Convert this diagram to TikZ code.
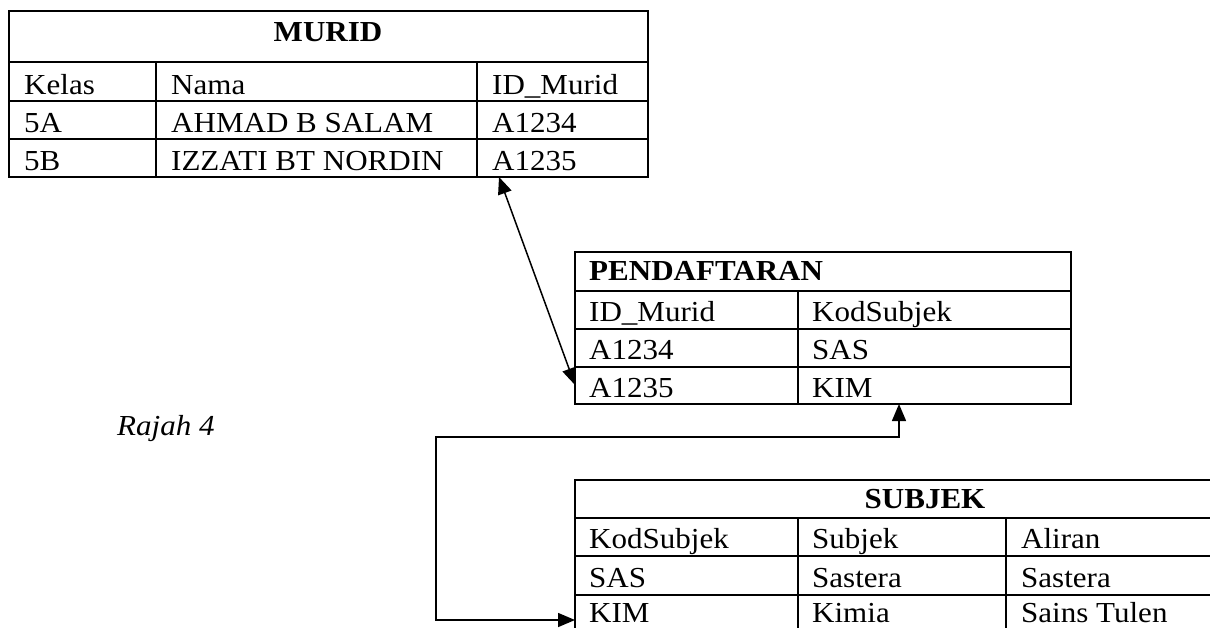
\documentclass[tikz,border=0pt]{standalone}
\usepackage{fontspec}
\setmainfont{Liberation Serif}[FakeStretch=1.07]
\usetikzlibrary{arrows.meta}

\begin{document}
\begin{tikzpicture}[x=1pt,y=-1pt,
	garis/.style={line width=1.8pt},
	sel/.style={anchor=base west, inner sep=0pt, font=\fontsize{29}{34}\selectfont},
	tajuk/.style={sel, font=\fontsize{29}{34}\selectfont\bfseries},
	panah/.style={line width=1.5pt, {Triangle[length=17pt,width=14pt]}-{Triangle[length=17pt,width=14pt]}}]
	\useasboundingbox (0,0) rectangle (1210,627);
	\clip (0,0) rectangle (1210,627);

	% MURID
	\draw [garis] (9,11) rectangle (648,177);
	\draw [garis] (9,62) -- (648,62);
	\draw [garis] (9,101) -- (648,101);
	\draw [garis] (9,139) -- (648,139);
	\draw [garis] (156,62) -- (156,177);
	\draw [garis] (477,62) -- (477,177);
	\node [tajuk, anchor=base] (muridTajuk) at (328,41) {MURID};
	\node [sel] (m11) at (24,94) {Kelas};
	\node [sel] (m12) at (171,94) {Nama};
	\node [sel] (m13) at (492,94) {ID\_Murid};
	\node [sel] (m21) at (24,132) {5A};
	\node [sel] (m22) at (171,132) {AHMAD B SALAM};
	\node [sel] (m23) at (492,132) {A1234};
	\node [sel] (m31) at (24,170) {5B};
	\node [sel] (m32) at (171,170) {IZZATI BT NORDIN};
	\node [sel] (m33) at (492,170) {A1235};
	\coordinate (muridBawah) at (499,177);

	% PENDAFTARAN
	\draw [garis] (575,252) rectangle (1071,404);
	\draw [garis] (575,291) -- (1071,291);
	\draw [garis] (575,329) -- (1071,329);
	\draw [garis] (575,367) -- (1071,367);
	\draw [garis] (798,291) -- (798,404);
	\node [tajuk] (pendTajuk) at (589,280) {PENDAFTARAN};
	\node [sel] (p11) at (589,321) {ID\_Murid};
	\node [sel] (p12) at (812,321) {KodSubjek};
	\node [sel] (p21) at (589,359) {A1234};
	\node [sel] (p22) at (812,359) {SAS};
	\node [sel] (p31) at (589,397) {A1235};
	\node [sel] (p32) at (812,397) {KIM};
	\coordinate (pendKiri) at (575,385);
	\coordinate (pendBawah) at (899,404);

	% SUBJEK
	\draw [garis] (575,480) rectangle (1275,671);
	\draw [garis] (575,518) -- (1275,518);
	\draw [garis] (575,556) -- (1275,556);
	\draw [garis] (575,595) -- (1275,595);
	\draw [garis] (575,633) -- (1275,633);
	\draw [garis] (798,518) -- (798,671);
	\draw [garis] (1006,518) -- (1006,671);
	\node [tajuk, anchor=base] (subjekTajuk) at (925,508) {SUBJEK};
	\node [sel] (s11) at (589,548) {KodSubjek};
	\node [sel] (s12) at (812,548) {Subjek};
	\node [sel] (s13) at (1021,548) {Aliran};
	\node [sel] (s21) at (589,587) {SAS};
	\node [sel] (s22) at (812,587) {Sastera};
	\node [sel] (s23) at (1021,587) {Sastera};
	\node [sel] (s31) at (589,622) {KIM};
	\node [sel] (s32) at (812,622) {Kimia};
	\node [sel] (s33) at (1021,622) {Sains Tulen};
	\coordinate (subjekKiri) at (575,620);

	\node [sel, font=\fontsize{29}{34}\selectfont\itshape] (rajah) at (117,435) {Rajah 4};

	% hubungan
	\coordinate (belok) at (436,437);
	\draw [panah] (muridBawah) -- (pendKiri);
	\draw [panah] (pendBawah) |- (belok) |- (subjekKiri);
\end{tikzpicture}
\end{document}
